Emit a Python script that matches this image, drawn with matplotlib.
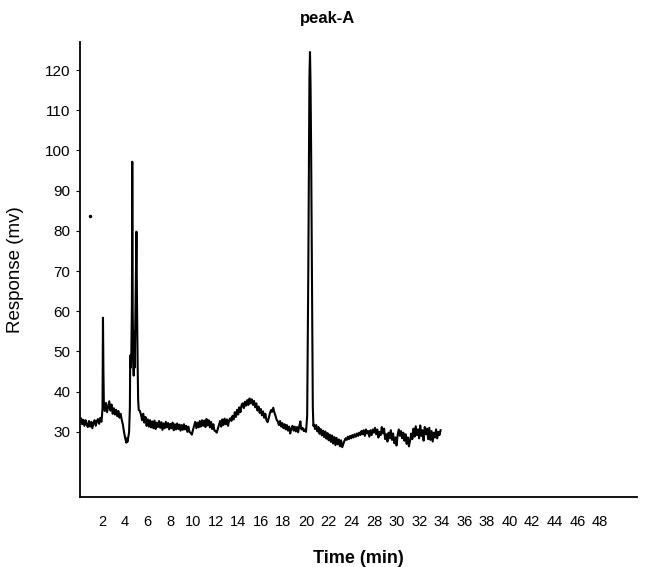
import matplotlib
matplotlib.use("Agg")
import matplotlib.pyplot as plt

plt.rcParams['font.family'] = ['Liberation Sans', 'DejaVu Sans']

# chromatogram trace: time (min), response (mv)
time_min = [
    0.0, 0.1, 0.2, 0.3, 0.4, 0.5, 0.6, 0.7, 0.8, 0.9, 1.0, 1.1, 1.2, 1.3, 1.4,
    1.5, 1.6, 1.7, 1.8, 1.9, 1.95, 2.0, 2.04, 2.08, 2.12,
    2.2, 2.3, 2.4, 2.5, 2.6, 2.7, 2.8, 2.9, 3.0, 3.1, 3.2, 3.3, 3.4, 3.5, 3.6,
    3.7, 3.8, 3.9, 4.0, 4.1, 4.15, 4.2, 4.3, 4.35,
    4.42, 4.45, 4.5, 4.55, 4.6, 4.63, 4.67, 4.72, 4.76, 4.8, 4.85, 4.9, 4.96,
    5.0, 5.05, 5.1, 5.15, 5.2, 5.3,
    5.4, 5.5, 5.6, 5.7, 5.8, 5.9, 6.0, 6.1, 6.2, 6.3, 6.4, 6.5, 6.6, 6.7, 6.8,
    6.9, 7.0, 7.1, 7.2, 7.3, 7.4, 7.5, 7.6, 7.7, 7.8, 7.9, 8.0, 8.1, 8.2, 8.3,
    8.4, 8.5, 8.6, 8.7, 8.8, 8.9, 9.0, 9.1, 9.2, 9.3, 9.4, 9.5, 9.6, 9.7, 9.8,
    9.9, 10.0, 10.1, 10.2, 10.3, 10.4, 10.5, 10.6, 10.7, 10.8, 10.9, 11.0, 11.1,
    11.2, 11.3, 11.4, 11.5, 11.6, 11.7, 11.8, 11.9, 12.0, 12.1, 12.2, 12.3,
    12.4, 12.5, 12.6, 12.7, 12.8, 12.9, 13.0, 13.1, 13.2, 13.3, 13.4, 13.5,
    13.6, 13.7, 13.8, 13.9, 14.0, 14.1, 14.2, 14.3, 14.4, 14.5, 14.6, 14.7,
    14.8, 14.9, 15.0, 15.1, 15.2, 15.3, 15.4, 15.5, 15.6, 15.7, 15.8, 15.9,
    16.0, 16.1, 16.2, 16.3, 16.4, 16.5, 16.6, 16.7, 16.8, 16.9, 17.0, 17.1,
    17.2, 17.3, 17.4, 17.5, 17.6, 17.7, 17.8, 17.9, 18.0, 18.1, 18.2, 18.3,
    18.4, 18.5, 18.6, 18.7, 18.8, 18.9, 19.0, 19.1, 19.2, 19.3, 19.4, 19.5,
    19.55, 19.6, 19.7, 19.8, 19.9, 20.0,
    20.1, 20.2, 20.3, 20.35, 20.4, 20.45, 20.5, 20.55, 20.6, 20.65,
    20.7, 20.8, 20.9, 21.0, 21.1, 21.2, 21.3, 21.4, 21.5, 21.6, 21.7, 21.8,
    21.9, 22.0, 22.1, 22.2, 22.3, 22.4, 22.5, 22.6, 22.7, 22.8, 22.9, 23.0,
    23.1, 23.2, 23.3, 23.4, 23.5, 23.6, 23.7, 23.8, 23.9, 24.0, 24.1, 24.2,
    24.3, 24.4, 24.5, 24.6, 24.7, 24.8, 24.9, 25.0, 25.1, 25.2, 25.3, 25.4,
    25.5, 25.6, 25.7, 25.8, 25.9, 26.0, 26.1, 26.2, 26.3, 26.4, 26.5, 26.6,
    26.7, 26.8, 26.9, 27.0, 27.1, 27.2, 27.3, 27.4, 27.5, 27.6, 27.7, 27.8,
    27.9, 28.0, 28.1, 28.2, 28.3, 28.4, 28.5, 28.6, 28.7, 28.8, 28.9, 29.0,
    29.1, 29.2, 29.3, 29.4, 29.5, 29.6, 29.7, 29.8, 29.9, 30.0, 30.1, 30.2,
    30.3, 30.4, 30.5, 30.6, 30.7, 30.8, 30.9, 31.0, 31.1, 31.2, 31.3, 31.4,
    31.5, 31.6, 31.7, 31.8, 31.9,
]
response_mv = [
    32.5, 33.4, 31.9, 33.0, 31.5, 32.9, 31.8, 31.2, 32.7, 31.3, 32.5, 30.9, 32.3, 32.9, 31.5,
    32.7, 33.2, 32.0, 33.5, 32.5, 33.8, 36.0, 58.4, 45.0, 36.5,
    35.2, 37.2, 34.9, 36.3, 37.6, 35.3, 36.8, 34.5, 35.9, 34.3, 35.5, 33.9, 35.2, 33.5, 34.5,
    33.0, 31.8, 30.0, 28.5, 27.3, 28.4, 27.5, 29.0, 30.0,
    36.0, 49.0, 46.0, 50.0, 62.0, 97.2, 60.0, 48.0, 44.0, 55.0, 46.0, 58.0, 72.0,
    79.8, 62.0, 48.0, 38.0, 35.5, 35.2,
    34.3, 32.9, 34.5, 32.3, 33.7, 31.5, 33.1, 31.3, 32.9, 31.1, 32.6, 30.9, 32.8, 30.7, 32.3,
    31.2, 32.7, 31.0, 32.4, 30.5, 32.1, 30.9, 32.5, 31.1, 32.2, 30.6, 32.0, 30.9, 32.3, 30.4,
    31.9, 30.6, 32.1, 30.7, 31.8, 30.3, 31.7, 30.5, 31.9, 30.6, 31.5, 30.0, 31.3, 29.9, 29.8,
    29.3, 30.5, 31.5, 32.5, 30.9, 32.3, 31.1, 32.7, 31.3, 32.9, 31.5, 32.8, 31.2,
    33.2, 31.6, 32.9, 31.1, 32.5, 30.7, 31.9, 30.3, 30.2, 29.8, 30.8, 31.8,
    32.7, 31.3, 33.1, 31.7, 33.3, 31.9, 33.1, 31.5, 32.9, 33.4, 32.7, 34.0,
    33.1, 34.9, 33.7, 35.5, 34.3, 36.1, 34.9, 36.7, 37.1, 35.9, 37.5, 36.5,
    37.9, 36.7, 38.3, 37.1, 38.1, 36.7, 37.7, 36.1, 37.1, 35.3, 36.3, 34.7,
    35.7, 34.1, 35.1, 33.5, 34.5, 32.9, 32.4, 33.4, 34.6, 35.4, 35.0, 36.0,
    34.8, 34.0, 33.0, 32.6, 31.7, 32.7, 31.3, 32.2, 30.9, 31.9, 30.6, 31.7,
    30.3, 31.3, 29.6, 30.8, 31.5, 30.3, 31.3, 30.1, 31.2, 29.9, 31.4, 32.6,
    31.0, 30.6, 31.0, 30.2, 30.6, 30.0,
    34.0, 70.0, 118.0, 124.5, 116.0, 100.0, 78.0, 55.0, 36.0, 31.5,
    31.8, 30.7, 31.7, 30.1, 31.2, 29.5, 30.7, 29.1, 30.3, 28.7, 30.1, 28.3,
    29.7, 27.9, 29.3, 27.5, 29.1, 27.1, 28.7, 26.7, 28.5, 26.9, 28.1, 26.4,
    27.9, 26.2, 27.0, 27.8, 28.4, 28.0, 28.8, 28.2, 29.0, 28.4, 29.2, 28.6,
    29.4, 28.8, 29.6, 29.0, 29.8, 29.2, 30.2, 29.4, 30.4, 29.0, 30.6, 29.6,
    30.2, 28.8, 30.4, 29.2, 30.6, 29.8, 31.0, 29.4, 30.6, 28.6, 30.0, 29.2,
    31.2, 29.6, 30.8, 28.2, 29.4, 27.6, 29.8, 28.4, 30.4, 28.0, 29.6, 27.2,
    28.6, 26.6, 29.2, 30.6, 29.0, 30.2, 28.4, 29.8, 27.8, 29.4, 27.0, 28.6,
    26.4, 27.8, 29.6, 28.2, 30.8, 28.8, 31.4, 29.2, 30.6, 28.4, 31.6, 29.0,
    30.4, 27.8, 31.2, 29.4, 30.8, 28.2, 31.0, 28.0, 30.2, 27.6, 29.8, 28.6,
    30.6, 28.4, 30.0, 29.2, 30.4,
]

# stray speck on the scanned page
speck_t = [0.9]
speck_mv = [83.7]

y_ticks = [30, 40, 50, 60, 70, 80, 90, 100, 110, 120]
x_ticks = [2, 4, 6, 8, 10, 12, 14, 16, 18, 20, 22, 24, 26, 28, 30, 32, 34,
           36, 38, 40, 42, 44, 46]
# the printed axis skips 26, so every label after 24 is shifted by one slot
x_labels = ['2', '4', '6', '8', '10', '12', '14', '16', '18', '20', '22', '24',
            '28', '30', '32', '34', '36', '38', '40', '42', '44', '46', '48']

fig = plt.figure(figsize=(6.55, 5.67), dpi=100)
ax = fig.add_axes([0.122, 0.1235, 0.851, 0.8025])

ax.plot(time_min, response_mv, color='black', lw=1.5)
ax.plot(speck_t, speck_mv, 'o', color='black', ms=1.5)

ax.set_xlim(0, 49.3)
ax.set_ylim(13.8, 127)

ax.spines['top'].set_visible(False)
ax.spines['right'].set_visible(False)
ax.spines['left'].set_linewidth(1.3)
ax.spines['bottom'].set_linewidth(1.3)

ax.set_yticks(y_ticks)
ax.set_yticklabels([str(v) for v in y_ticks], fontsize=11)
ax.tick_params(axis='y', length=3, width=0.8, pad=4)

ax.set_xticks(x_ticks)
ax.set_xticklabels(x_labels, fontsize=10.5)
ax.tick_params(axis='x', length=0, pad=13)

ax.set_xlabel('Time (min)', fontsize=13, fontweight='bold', labelpad=15)
ax.set_ylabel('Response (mv)', fontsize=13.5)
ax.yaxis.set_label_coords(-0.1, 0.5)

fig.text(0.5, 0.968, 'peak-A', ha='center', va='center', fontsize=12,
         fontweight='bold')

fig.savefig('out.png', dpi=100)
